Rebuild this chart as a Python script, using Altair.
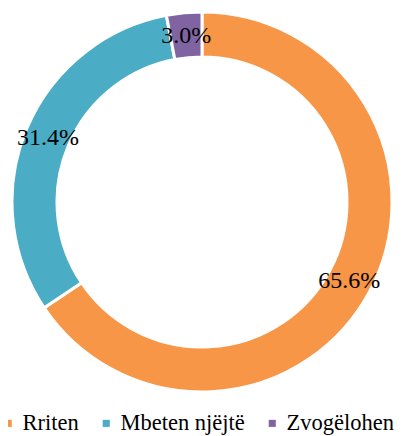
import altair as alt
import pandas as pd

categories = ["Rriten", "Mbeten njëjtë", "Zvogëlohen"]
values = [65.6, 31.4, 3.0]
labels = ["65.6%", "31.4%", "3.0%"]
colors = ["#F79646", "#4BACC6", "#8064A2"]

df = pd.DataFrame({
    "cat": categories,
    "value": values,
    "label": labels,
    "idx": list(range(len(categories))),
})

FONT = "Liberation Serif"

base = alt.Chart(df).encode(
    theta=alt.Theta("value:Q", stack=True),
    order=alt.Order("idx:Q"),
    x=alt.value(194),
    y=alt.value(194),
)

arc = base.mark_arc(outerRadius=190, innerRadius=145, stroke="white", strokeWidth=3).encode(
    color=alt.Color(
        "cat:N",
        scale=alt.Scale(domain=categories, range=colors),
        sort=categories,
        legend=alt.Legend(
            title=None,
            orient="none",
            legendX=-11,
            legendY=404,
            direction="horizontal",
            symbolType="square",
            symbolSize=50,
            symbolStrokeWidth=0,
            labelFont=FONT,
            labelFontSize=22.5,
            labelColor="#000000",
            labelOffset=3,
            columnPadding=16,
            padding=0,
        ),
    )
)

text = base.mark_text(radius=167, font=FONT, fontSize=24, color="#000000").encode(
    text="label:N"
)

chart = (
    alt.layer(arc, text)
    .properties(width=399, height=428, autosize="none", padding=0)
    .configure_view(stroke=None)
)

chart.save("out.html", embed_options={"renderer": "svg", "actions": False})
